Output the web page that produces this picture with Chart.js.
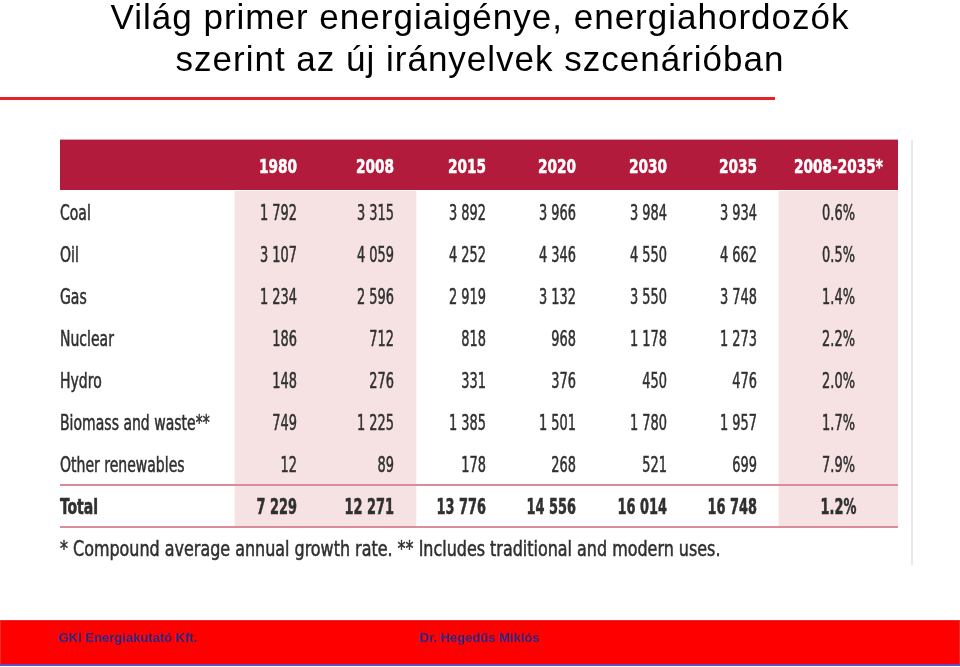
<!DOCTYPE html>
<html lang="hu">
<head>
<meta charset="utf-8">
<title>Világ primer energiaigénye</title>
<script src="https://cdn.jsdelivr.net/npm/chart.js@4.4.1/dist/chart.umd.min.js"></script>
<style>
  html, body { margin: 0; padding: 0; background: #fff; }
  body { width: 960px; height: 667px; position: relative; overflow: hidden; font-family: "Liberation Sans", Arial, sans-serif; }
  #chartBox { position: absolute; left: 0; top: 0; width: 960px; height: 667px; }
  #title { position: absolute; left: 0; top: -4px; width: 960px; text-align: center; font-size: 35px; line-height: 42px; letter-spacing: 1px; color: #000; }
  #rule { position: absolute; left: 0; top: 97px; width: 775px; height: 3px; background: #E42526; }
  #edge { position: absolute; left: 911px; top: 140px; width: 2px; height: 425px; background: #E8E8E8; }
  #footer { position: absolute; left: 0; top: 620px; width: 958px; height: 43px; background: #FF0000; border: 1px solid #E03030; border-bottom: 2px solid #5B4FC8; }
  #footer span { position: absolute; top: 9px; font-weight: bold; font-size: 13px; color: #38287E; }
</style>
</head>
<body>
<div id="chartBox"><canvas id="tableChart"></canvas></div>
<div id="title">Világ primer energiaigénye, energiahordozók<br>szerint az új irányelvek szcenárióban</div>
<div id="rule"></div>
<div id="edge"></div>
<div id="footer"><span style="left:57px">GKI Energiakutató Kft.</span><span style="left:418px">Dr. Hegedűs Miklós</span></div>
<script>
// Adatok
const rowLabels = ['Coal', 'Oil', 'Gas', 'Nuclear', 'Hydro', 'Biomass and waste**', 'Other renewables', 'Total'];
const yearLabels = ['1980', '2008', '2015', '2020', '2030', '2035'];
const growthLabel = '2008-2035*';
const v1980 = [1792, 3107, 1234, 186, 148, 749, 12, 7229];
const v2008 = [3315, 4059, 2596, 712, 276, 1225, 89, 12271];
const v2015 = [3892, 4252, 2919, 818, 331, 1385, 178, 13776];
const v2020 = [3966, 4346, 3132, 968, 376, 1501, 268, 14556];
const v2030 = [3984, 4550, 3550, 1178, 450, 1780, 521, 16014];
const v2035 = [3934, 4662, 3748, 1273, 476, 1957, 699, 16748];
const growth = [0.6, 0.5, 1.4, 2.2, 2.0, 1.7, 7.9, 1.2];
const footnote = '* Compound average annual growth rate. ** Includes traditional and modern uses.';

const yearValues = [v1980, v2008, v2015, v2020, v2030, v2035];

// oszlopszélességek (relatív): címke, 6 év, növekedés
const colWidths = [175, 84, 97, 92, 90, 91, 90, 119];
const edges = colWidths.reduce((acc, w) => { acc.push(acc[acc.length - 1] + w); return acc; }, [0]);
const totalWidth = edges[edges.length - 1];

const RED = '#B31B3D';
const SHADE = '#F6E2E3';
const LINE = '#D98C99';
const TEXT = '#303030';
const FONT = '"DejaVu Sans Condensed", "DejaVu Sans", sans-serif';
const numScale = 0.70, textScale = 0.76, headScale = 0.80, noteScale = 0.865;

function fmt(n) {
    return String(n).replace(/\B(?=(\d{3})+(?!\d))/g, ' ');
}

function drawText(ctx, text, x, y, align, font, color, sx) {
    ctx.save();
    ctx.translate(x, y);
    ctx.scale(sx, 1);
    ctx.font = font;
    ctx.fillStyle = color;
    ctx.strokeStyle = color;
    ctx.lineWidth = 0.5;
    ctx.textAlign = align;
    ctx.textBaseline = 'alphabetic';
    ctx.fillText(text, 0, 0);
    ctx.strokeText(text, 0, 0); // kicsit vastagabb betű
    ctx.restore();
}

const tablePlugin = {
    id: 'tableText',
    beforeDatasetsDraw(chart) {
        const { ctx, chartArea, scales: { x, y } } = chart;
        const rowH = y.getPixelForValue(1) - y.getPixelForValue(0);
        const left = x.getPixelForValue(0), right = x.getPixelForValue(totalWidth);
        // fejléc sáv
        ctx.save();
        ctx.fillStyle = RED;
        ctx.fillRect(left, chartArea.top - rowH * 1.2 - 1, right - left, rowH * 1.2);
        ctx.restore();
    },
    afterDatasetsDraw(chart) {
        const { ctx, chartArea, scales: { x, y } } = chart;
        const rowH = y.getPixelForValue(1) - y.getPixelForValue(0);
        const left = x.getPixelForValue(0), right = x.getPixelForValue(totalWidth);
        const pad = 22;

        // fejléc szövegek
        const headBase = chartArea.top - rowH * 0.6 - 1 + 8;
        yearLabels.forEach((lab, i) => {
            drawText(ctx, lab, x.getPixelForValue(edges[i + 2]) - pad, headBase, 'right', 'bold 19px ' + FONT, '#fff', headScale);
        });
        const gMid = (x.getPixelForValue(edges[7]) + x.getPixelForValue(edges[8])) / 2;
        drawText(ctx, growthLabel, gMid, headBase, 'center', 'bold 19px ' + FONT, '#fff', headScale);

        // vonalak a Total sor körül
        const lastIdx = rowLabels.length - 1;
        const lineY = (y.getPixelForValue(lastIdx - 1) + y.getPixelForValue(lastIdx)) / 2;
        ctx.save();
        ctx.strokeStyle = LINE;
        ctx.lineWidth = 2;
        ctx.beginPath();
        ctx.moveTo(left, lineY); ctx.lineTo(right, lineY);
        ctx.moveTo(left, chartArea.bottom); ctx.lineTo(right, chartArea.bottom);
        ctx.stroke();
        ctx.restore();

        // cellák
        rowLabels.forEach((lab, r) => {
            const base = y.getPixelForValue(r) + 8;
            const bold = r === lastIdx ? 'bold ' : '';
            drawText(ctx, lab, left, base, 'left', bold + '20.5px ' + FONT, TEXT, textScale);
            yearValues.forEach((arr, c) => {
                drawText(ctx, fmt(arr[r]), x.getPixelForValue(edges[c + 2]) - pad, base, 'right', bold + '20.5px ' + FONT, TEXT, numScale);
            });
            drawText(ctx, growth[r].toFixed(1) + '%', gMid, base, 'center', bold + '20.5px ' + FONT, TEXT, numScale);
        });

        // lábjegyzet
        drawText(ctx, footnote, left, chartArea.bottom + 29, 'left', '20.5px ' + FONT, TEXT, noteScale);
    }
};

const ctx = document.getElementById('tableChart').getContext('2d');
const tableChart = new Chart(ctx, {
    type: 'bar',
    data: {
        labels: rowLabels,
        datasets: [
            {
                label: '1980-2008',
                data: rowLabels.map(() => [edges[1], edges[3]]),
                backgroundColor: SHADE
            },
            {
                label: growthLabel,
                data: rowLabels.map(() => [edges[7], edges[8]]),
                backgroundColor: SHADE
            }
        ]
    },
    options: {
        indexAxis: 'y',
        responsive: true,
        maintainAspectRatio: false,
        animation: false,
        events: [],
        layout: {
            padding: { left: 60, right: 62, top: 191, bottom: 140 }
        },
        datasets: {
            bar: {
                grouped: false,
                barPercentage: 1,
                categoryPercentage: 1,
                borderWidth: 0,
                borderSkipped: false
            }
        },
        plugins: {
            legend: { display: false },
            tooltip: { enabled: false }
        },
        scales: {
            x: { type: 'linear', min: 0, max: totalWidth, display: false },
            y: { type: 'category', display: false, offset: true }
        }
    },
    plugins: [tablePlugin]
});
</script>
</body>
</html>
